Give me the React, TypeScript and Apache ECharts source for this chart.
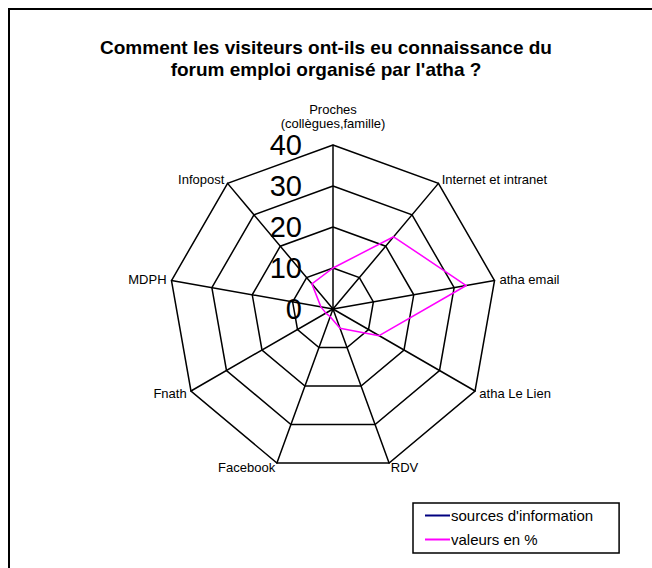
import React, { useEffect, useRef } from "react";
import * as echarts from "echarts";

const categories = [
  "Proches\n(collègues,famille)",
  "Internet et intranet",
  "atha email",
  "atha Le Lien",
  "RDV",
  "Facebook",
  "Fnath",
  "MDPH",
  "Infopost",
];
const valeursEnPourcent = [10, 23, 33, 13, 5, 2, 2, 3, 8];
const axisMax = 40;
const axisStep = 10;
const seriesNames = ["sources d'information", "valeurs en %"];
const titleText = "Comment les visiteurs ont-ils eu connaissance du\nforum emploi organisé par l'atha ?";

export default function App() {
  const ref = useRef<HTMLDivElement>(null);
  useEffect(() => {
    if (!ref.current) return;
    const chart = echarts.init(ref.current, null, { renderer: "svg" });
    // ECharts radar goes counter-clockwise; reorder so categories run clockwise.
    const order = [0, ...categories.slice(1).map((_, i) => categories.length - 1 - i)];
    const font = "Arial, 'Liberation Sans', sans-serif";
    const indicator = order.map((idx, k) => {
      const base: any = { name: categories[idx], max: axisMax, min: 0 };
      if (k === 0) {
        base.axisLabel = {
          show: true,
          fontSize: 29,
          color: "#000",
          fontFamily: font,
          margin: 31,
        };
      }
      return base;
    });
    chart.setOption({
      animation: false,
      title: {
        text: titleText,
        left: "center",
        top: 36,
        padding: [0, 0, 0, 10],
        textStyle: {
          fontSize: 19,
          fontWeight: "bold",
          color: "#000",
          fontFamily: font,
          lineHeight: 22,
        },
      },
      legend: {
        orient: "vertical",
        left: 413,
        top: 503,
        padding: [5, 26, 6, 12],
        itemGap: 9,
        itemWidth: 25,
        itemHeight: 2,
        icon: "rect",
        borderColor: "#000",
        borderWidth: 1.5,
        backgroundColor: "#fff",
        textStyle: { fontSize: 15, color: "#000", fontFamily: font, padding: [0, 0, 0, -4] },
        data: seriesNames,
      },
      radar: {
        center: [333, 309],
        radius: 164,
        splitNumber: axisMax / axisStep,
        indicator,
        nameGap: 5,
        axisName: { color: "#000", fontSize: 13, fontFamily: font, lineHeight: 14 },
        axisLine: { lineStyle: { color: "#000", width: 1.5 } },
        splitLine: { lineStyle: { color: "#000", width: 1.5 } },
        splitArea: { show: false },
        axisLabel: { show: false },
        axisTick: { show: false },
      },
      graphic: [
        {
          type: "rect",
          shape: { x: 9, y: 9, width: 700, height: 600 },
          style: { fill: "none", stroke: "#000", lineWidth: 2 },
          silent: true,
          z: -1,
        },
      ],
      series: [
        {
          name: seriesNames[0],
          type: "radar",
          color: "#000080",
          symbol: "none",
          data: [],
        },
        {
          name: seriesNames[1],
          type: "radar",
          color: "#FF00FF",
          symbol: "none",
          lineStyle: { width: 1.5, color: "#FF00FF" },
          data: [{ name: seriesNames[1], value: order.map((i) => valeursEnPourcent[i]) }],
        },
      ],
    });
    return () => chart.dispose();
  }, []);
  return (
    <div
      ref={ref}
      style={{ position: "absolute", left: 0, top: 0, width: 652, height: 568 }}
    />
  );
}
